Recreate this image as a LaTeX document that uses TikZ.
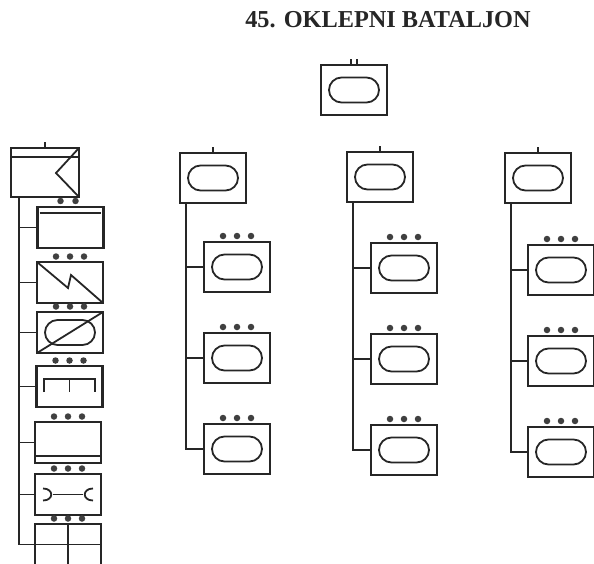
\documentclass[tikz,border=0pt]{standalone}
\usepackage{fontspec}
\setmainfont{Liberation Serif}
\usetikzlibrary{positioning,shapes.misc}

\begin{document}
\begin{tikzpicture}[x=1pt, y=-1pt,
  unit/.style={draw=black!85, line width=2.1pt, rectangle, inner sep=0pt, outer sep=0pt,
    minimum width=66pt, minimum height=50pt},
  support/.style={unit, minimum height=41pt},
  pill/.style={draw=black!85, line width=1.8pt, rounded rectangle, inner sep=0pt,
    minimum width=50pt, minimum height=25pt},
  dot/.style={circle, fill=black!75, inner sep=0pt, minimum size=6.5pt},
  link/.style={draw=black!85, line width=1.8pt},
  tick/.style={draw=black!85, line width=1.4pt},
  mark line/.style={draw=black!85, line width=1.8pt},
]
  \useasboundingbox (0,0) rectangle (594,564);
  \node[font=\fontsize{24.3}{25}\selectfont\bfseries, text=black!85] (title) at (388,20) {45. OKLEPNI BATALJON};

  % battalion
  \node[unit] (bn) at (354,90) {};
  \node[pill] (bnpill) at (bn) {};
  \draw[tick] ([xshift=-3pt]bn.north) -- ++(0,-6);
  \draw[tick] ([xshift=3pt]bn.north) -- ++(0,-6);

  % companies
  \node[unit] (hA) at (213,178) {};
  \node[unit] (hB) at (380,177) {};
  \node[unit] (hC) at (538,178) {};
  \node[unit, anchor=north west] (aA) at (204,242) {};
  \node[unit, below=41pt of aA] (bA) {};
  \node[unit, below=41pt of bA] (cA) {};
  \node[unit, anchor=north west] (aB) at (371,243) {};
  \node[unit, below=41pt of aB] (bB) {};
  \node[unit, below=41pt of bB] (cB) {};
  \node[unit, anchor=north west] (aC) at (528,245) {};
  \node[unit, below=41pt of aC] (bC) {};
  \node[unit, below=41pt of bC] (cC) {};

  \foreach \col in {A,B,C} {
    \node[pill] (hpill\col) at (h\col) {};
    \draw[tick] (h\col.north) -- ++(0,-6);
    \coordinate (trunk\col) at ([xshift=6pt]h\col.south west);
    \draw[link] (trunk\col) |- (c\col.west);
    \foreach \row in {a,b,c} {
      \node[pill] (\row pill\col) at (\row\col) {};
      \draw[link] (\row\col.west) -- (\row\col.west -| trunk\col);
      \foreach \d in {-14,0,14}
        \node[dot] (\row dot\col\d) at ([xshift=\d pt, yshift=6pt]\row\col.north) {};
    }
  }

  % support column
  \node[unit, minimum width=68pt, minimum height=49pt] (hq) at (45,172.5) {};
  \draw[tick] (hq.north) -- ++(0,-6);
  \draw[mark line] (hq.north west) ++(0,9) -- ++(68,0);
  \draw[mark line] (hq.north east) -- ++(-23,25) -- (hq.south east);

  \node[support, anchor=north west] (s1) at (37.5,207) {};
  \node[support, anchor=north west] (s2) at (37,262) {};
  \node[support, anchor=north west] (s3) at (37,312) {};
  \node[support, anchor=north west] (s4) at (36.5,366) {};
  \node[support, anchor=north west] (s5) at (35,422) {};
  \node[support, anchor=north west] (s6) at (35,474) {};
  \node[support, anchor=north west] (s7) at (35,524) {};

  \coordinate (trunkS) at (19,197);
  \draw[link] (trunkS) |- (s7.west);
  \foreach \s in {1,...,6}
    \draw[link] (s\s.west) -- (s\s.west -| trunkS);

  \foreach \s in {2,...,7}
    \foreach \d in {-14,0,14}
      \node[dot] (sdot\s\d) at ([xshift=\d pt, yshift=5.5pt]s\s.north) {};
  \node[dot] (sdot10) at ([xshift=-10pt, yshift=6pt]s1.north) {};
  \node[dot] (sdot11) at ([xshift=5pt, yshift=6pt]s1.north) {};

  \draw[mark line] ([shift={(2,6)}]s1.north west) -- ([shift={(-3,6)}]s1.north east);
  \draw[mark line] (s2.north west) -- ++(31,26) -- ++(3,-13) -- (s2.south east);
  \node[pill] (s3pill) at (s3) {};
  \draw[mark line] (s3.south west) -- (s3.north east);
  \draw[mark line] ([shift={(7.5,26)}]s4.north west) |- ([shift={(-7.5,13)}]s4.north east) -- ++(0,13);
  \draw[mark line] (s4.north) ++(0,13) -- ++(0,13);
  \draw[mark line] ([yshift=7pt]s5.south west) -- ([yshift=7pt]s5.south east);
  \coordinate (gapL) at ([xshift=-15pt]s6.center);
  \coordinate (gapR) at ([xshift=15pt]s6.center);
  \draw[mark line] (gapL) -- (gapR);
  \draw[mark line] ([shift={(-10,-6)}]gapL) to[out=0, in=0, distance=11pt] ([shift={(-10,6)}]gapL);
  \draw[mark line] ([shift={(10,-6)}]gapR) to[out=180, in=180, distance=11pt] ([shift={(10,6)}]gapR);
  \draw[mark line] (s7.north) -- (s7.south);
  \draw[mark line] (s7.west) -- (s7.east);
\end{tikzpicture}
\end{document}
